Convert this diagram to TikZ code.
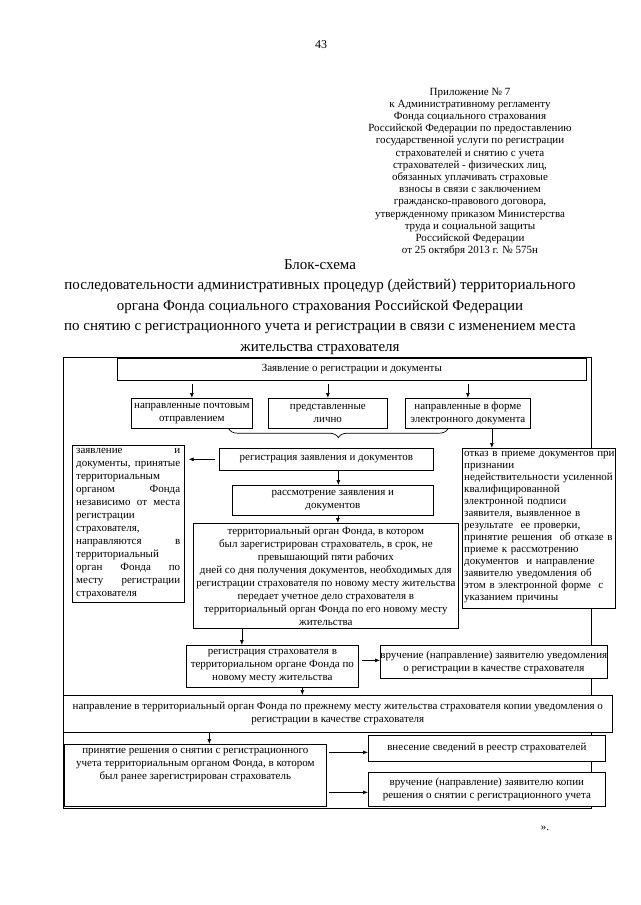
\documentclass[tikz,border=0pt]{standalone}
\usepackage{fontspec}
\setmainfont{Liberation Serif}
\usetikzlibrary{arrows.meta,decorations.pathreplacing}
\newcommand\drawbox[5]{%
  \pgfmathsetmacro\bxw{#4-#2}\pgfmathsetmacro\bxh{#5-#3}%
  \node[box, minimum width=\bxw pt, minimum height=\bxh pt] (#1) at (#2,#3) {};}
\begin{document}
\begin{tikzpicture}[x=1pt,y=-1pt,
  box/.style={draw, line width=0.7pt, fill=white, inner sep=0pt, anchor=north west},
  txt/.style={font=\fontsize{11}{13}\selectfont, align=center, inner sep=0pt},
  arr/.style={-{Latex[length=5pt,width=4pt]}, line width=0.7pt},
  frameline/.style={draw, line width=0.7pt}]
\useasboundingbox (0,0) rectangle (640,905);
\fill[white] (0,0) rectangle (640,905);

\node[font=\fontsize{12}{14}\selectfont, inner sep=0pt] (pnum) at (321,45) {43};
\node[txt, font=\fontsize{11}{12.2}\selectfont] (hdr) at (470,172) {Приложение № 7\\
к Административному регламенту\\
Фонда социального страхования\\
Российской Федерации по предоставлению\\
государственной услуги по регистрации\\
страхователей и снятию с учета\\
страхователей - физических лиц,\\
обязанных уплачивать страховые\\
взносы в связи с заключением\\
гражданско-правового договора,\\
утвержденному приказом Министерства\\
труда и социальной защиты\\
Российской Федерации\\
от 25 октября 2013 г. № 575н};
\node[txt, font=\fontsize{15}{20.5}\selectfont] (title) at (320,307) {Блок-схема\\
последовательности административных процедур (действий) территориального\\
органа Фонда социального страхования Российской Федерации\\
по снятию с регистрационного учета и регистрации в связи с изменением места\\
жительства страхователя};

\draw[frameline] (63,357) rectangle (591,808);

\drawbox{top}{117}{358}{586}{380}
\drawbox{poch}{131}{398}{252}{428}
\drawbox{lich}{268}{398}{387}{428}
\drawbox{elec}{405}{398}{530}{428}
\drawbox{reg}{219}{448}{433}{470}
\drawbox{lbox}{72}{445}{184}{602}
\drawbox{rbox}{462}{448}{615}{608}
\drawbox{rassm}{232}{485}{433}{515}
\drawbox{big}{193}{523}{458}{628}
\drawbox{rstr}{186}{645}{358}{687}
\drawbox{vruch}{380}{645}{607}{678}
\drawbox{naprav}{63}{695}{612}{732}
\drawbox{prin}{64}{744}{326}{806}
\drawbox{vnes}{368}{735}{605}{761}
\drawbox{vcopy}{368}{772}{605}{806}

\node[txt] at (top) {Заявление о регистрации и документы};
\node[txt] at (poch) {направленные почтовым\\отправлением};
\node[txt] at (lich) {представленные\\лично};
\node[txt] at (elec) {направленные в форме\\электронного документа};
\node[txt] at (reg) {регистрация заявления и документов};
\node[txt, text width=104pt, align=left, anchor=north west] at ([xshift=4pt,yshift=-3pt]lbox.north west)
 {заявление\hfill и\\документы,\hfill принятые\\территориальным\\органом\hfill Фонда\\независимо\hfill от\hfill места\\регистрации\\страхователя,\\направляются\hfill в\\территориальный\\орган\hfill Фонда\hfill по\\месту\hfill регистрации\\страхователя};
\node[txt, font=\fontsize{11}{12}\selectfont, text width=152pt, align=left, anchor=north west] at ([xshift=2pt,yshift=-3pt]rbox.north west)
 {отказ в приеме документов при\\признании\\недействительности усиленной\\квалифицированной\\электронной подписи\\заявителя, выявленное в\\результате\ \ ее проверки,\\принятие решения\ \ об отказе в\\приеме к рассмотрению\\документов\ \ и направление\\заявителю уведомления об\\этом в электронной форме\ \ с\\указанием причины};
\node[txt] at (rassm) {рассмотрение заявления и\\документов};
\node[txt] at (big) {территориальный орган Фонда, в котором\\был зарегистрирован страхователь, в срок, не\\превышающий пяти рабочих\\дней со дня получения документов, необходимых для\\регистрации страхователя по новому месту жительства\\передает учетное дело страхователя в\\территориальный орган Фонда по его новому месту\\жительства};
\node[txt] at (rstr) {регистрация страхователя в\\территориальном органе Фонда по\\новому месту жительства};
\node[txt] at (vruch) {вручение (направление) заявителю уведомления\\о регистрации в качестве страхователя};
\node[txt] at (naprav) {направление в территориальный орган Фонда по прежнему месту жительства страхователя копии уведомления о\\регистрации в качестве страхователя};
\node[txt, anchor=north] at ([yshift=-4pt]prin.north) {принятие решения о снятии с регистрационного\\учета территориальным органом Фонда, в котором\\был ранее зарегистрирован страхователь};
\node[txt] at (vnes) {внесение сведений в реестр страхователей};
\node[txt] at (vcopy) {вручение (направление) заявителю копии\\решения о снятии с регистрационного учета};

\node[txt] (quote) at (545,828) {».};

% connectors
\draw[arr] ([yshift=-3pt]top.south -| poch.north) -- (poch.north);
\draw[arr] ([yshift=-3pt]top.south -| lich.north) -- (lich.north);
\draw[arr] ([yshift=-3pt]top.south -| elec.north) -- (elec.north);
\draw[line width=0.7pt, decorate, decoration={brace, mirror, amplitude=9pt}]
  ([xshift=-24pt]poch.south east) -- ([xshift=43pt]elec.south west);
\draw[arr] ([xshift=24pt]elec.south) -- ([xshift=24pt]elec.south |- rbox.north);
\draw[arr] ([xshift=-4pt]reg.west) -- ([xshift=4pt]reg.west -| lbox.east);
\draw[arr] ([xshift=12pt]reg.south) -- ([xshift=12pt]reg.south |- rassm.north);
\draw[arr] ([xshift=5pt]rassm.south) -- ([xshift=5pt]rassm.south |- big.north);
\draw[arr] ([xshift=-84pt]big.south) -- ([xshift=-84pt]big.south |- rstr.north);
\draw[arr] ([xshift=3pt,yshift=6pt]rstr.east) -- ([yshift=6pt]rstr.east -| vruch.west);
\draw[arr] ([xshift=30pt]rstr.south) -- ([xshift=30pt]rstr.south |- naprav.north);
\draw[arr] ([xshift=14pt]prin.north |- naprav.south) -- ([xshift=14pt]prin.north);
\draw[arr] ([xshift=2pt,yshift=23pt]prin.east) -- ([yshift=23pt]prin.east -| vnes.west);
\draw[arr] ([xshift=2pt,yshift=-17pt]prin.east) -- ([yshift=-17pt]prin.east -| vcopy.west);
\end{tikzpicture}
\end{document}
